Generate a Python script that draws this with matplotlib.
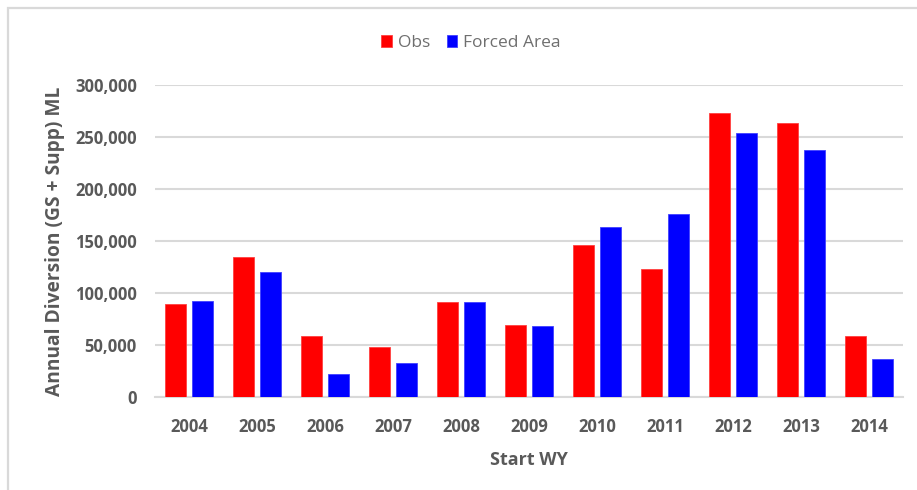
import matplotlib
matplotlib.use("Agg")
import matplotlib.pyplot as plt
import numpy as np
from matplotlib.patches import Rectangle
from matplotlib.ticker import FuncFormatter

# Annual diversion by start water year (ML)
years = ["2004", "2005", "2006", "2007", "2008", "2009",
         "2010", "2011", "2012", "2013", "2014"]
obs = [89600, 134700, 58000, 47700, 90900, 68800,
       145600, 123200, 272900, 263000, 58000]
forced_area = [92500, 120300, 21500, 32300, 91500, 68100,
               162900, 176000, 253700, 237400, 36500]

text_col = "#595959"
legend_col = "#6f6f6f"
grid_col = "#d9d9d9"
plt.rcParams["font.family"] = ["Open Sans", "DejaVu Sans"]

fig = plt.figure(figsize=(9.17, 4.9), dpi=100)
fig.patch.set_facecolor("white")

# chart frame
fig.patches.append(Rectangle((8 / 917, -0.1), 1.2, 1.1 - 8 / 490,
                             transform=fig.transFigure, fill=False,
                             edgecolor=grid_col, linewidth=1.6, zorder=0))

ax = fig.add_axes([155 / 917, 1 - 396.7 / 490, (903 - 155) / 917, (396.7 - 85) / 490])

x = np.arange(len(years))
w = 0.30
off = 0.198
ax.bar(x - off, obs, w, color="#ff0000", edgecolor="#ff4040", linewidth=0.6,
       label="Obs", zorder=3)
ax.bar(x + off, forced_area, w, color="#0000ff", edgecolor="#4040ff", linewidth=0.6,
       label="Forced Area", zorder=3)

ax.set_xlim(-0.5, len(years) - 0.5)
ax.set_ylim(0, 300000)
ax.set_yticks(np.arange(0, 300001, 50000))
ax.yaxis.set_major_formatter(FuncFormatter(lambda v, p: f"{int(v):,}"))
ax.set_xticks(x)
ax.set_xticklabels(years)

ax.grid(axis="y", color=grid_col, linewidth=1.5, zorder=0)
ax.set_axisbelow(True)
for s in ["top", "right", "left"]:
    ax.spines[s].set_visible(False)
ax.spines["bottom"].set_color(grid_col)
ax.spines["bottom"].set_linewidth(1.5)
ax.tick_params(length=0, colors=text_col, labelsize=12)
ax.tick_params(axis="y", pad=13)
ax.tick_params(axis="x", pad=15)
for lab in ax.get_xticklabels() + ax.get_yticklabels():
    lab.set_fontweight("bold")

ax.set_xlabel("Start WY", fontsize=13, fontweight="bold", color=text_col, labelpad=11)
ax.set_ylabel("Annual Diversion (GS + Supp) ML", fontsize=13.8, fontweight="bold",
              color=text_col, labelpad=7)

leg = fig.legend(loc="center", bbox_to_anchor=(471 / 917, 1 - 43 / 490), ncol=2,
                 frameon=False, fontsize=12.5, handlelength=0.6, handleheight=0.65,
                 handletextpad=0.35, columnspacing=0.95)
for t in leg.get_texts():
    t.set_color(legend_col)

fig.savefig("out.png", dpi=100)
